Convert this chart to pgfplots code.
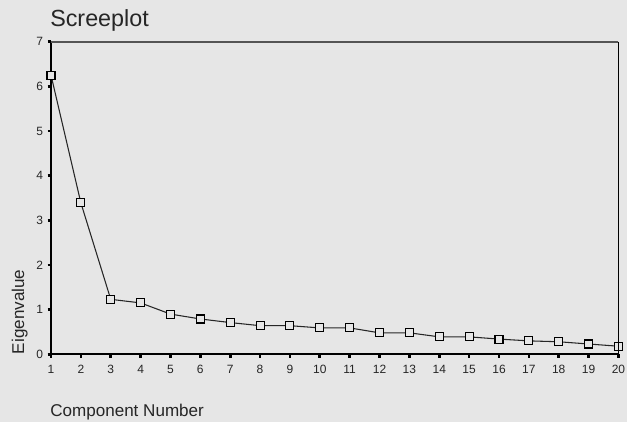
\documentclass[border=0pt]{standalone}
\usepackage{fontspec}
\setmainfont{Liberation Sans}
\usepackage{pgfplots}
\pgfplotsset{compat=1.18}
\definecolor{bg}{HTML}{E6E6E6}
\definecolor{txt}{HTML}{262626}
\definecolor{topline}{HTML}{555555}
\begin{document}
\begin{tikzpicture}
\fill[bg] (0,0) rectangle (470.25pt,316.5pt);
\begin{axis}[
  name=ax,
  at={(38.25pt,50.8pt)}, anchor=south west,
  scale only axis,
  width=425.6pt, height=234.5pt,
  xmin=1, xmax=20, ymin=0, ymax=7,
  axis x line=bottom, axis y line=left,
  axis line style={-, line width=1.5pt, black},
  xtick={1,...,20}, ytick={0,...,7},
  tick align=outside,
  major tick length=2.5pt,
  every tick/.style={black, line width=2pt},
  tick label style={font=\fontsize{9}{11}\selectfont, text=txt},
  xticklabel style={yshift=-2pt},
  /pgf/number format/assume math mode=true,
  clip=false,
]
\addplot[color=txt, line width=0.8pt, mark=square*, mark size=3pt,
  mark options={fill=bg, draw=black, line width=0.8pt}]
coordinates {
(1,6.25) (2,3.39) (3,1.23) (4,1.15) (5,0.90) (6,0.79) (7,0.71) (8,0.64)
(9,0.64) (10,0.59) (11,0.59) (12,0.48) (13,0.48) (14,0.39) (15,0.39)
(16,0.34) (17,0.30) (18,0.28) (19,0.23) (20,0.18)
};
\end{axis}
\draw[topline, line width=1.5pt] (ax.north west) -- (ax.north east);
\draw[black, line width=1pt] (ax.north east) -- (ax.south east);
\node[anchor=base west, inner sep=0pt, text=txt, font=\fontsize{17.5}{20}\selectfont]
  at ([shift={(-0.75pt,11pt)}]ax.north west) {Screeplot};
\node[anchor=base west, inner sep=0pt, text=txt, font=\fontsize{12.8}{15}\selectfont]
  at ([shift={(-0.75pt,-46.8pt)}]ax.south west) {Component Number};
\node[xshift=-20.25pt, rotate=90, anchor=base west, inner sep=0pt, text=txt, font=\fontsize{12.8}{15}\selectfont]
  at (ax.south west) {Eigenvalue};
\pgfresetboundingbox
\path (0,0) rectangle (470.25pt,316.5pt);
\end{tikzpicture}
\end{document}
